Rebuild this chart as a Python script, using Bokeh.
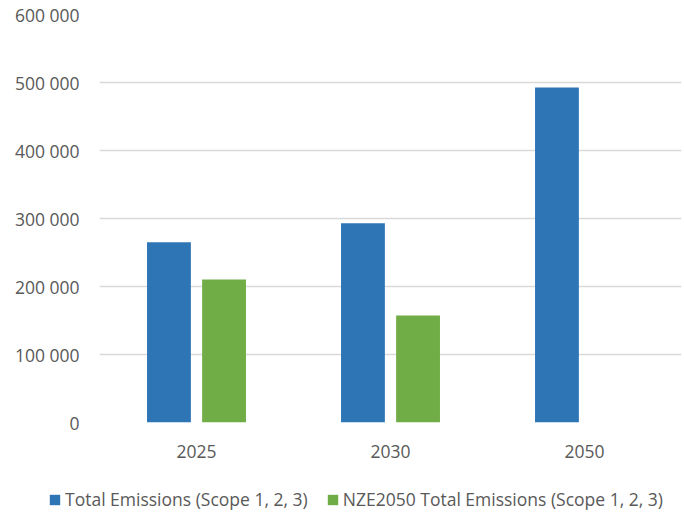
from bokeh.plotting import figure
from bokeh.models import ColumnDataSource, FixedTicker, Legend, LegendItem
from bokeh.transform import dodge
from bokeh.embed import file_html
from bokeh.resources import INLINE

years = ["2025", "2030", "2050"]
total_emissions = [265100, 293100, 492600]
nze2050_emissions = [210300, 157400, 0]
y_ticks = [0, 100000, 200000, 300000, 400000, 500000, 600000]
y_tick_labels = ["0", "100 000", "200 000", "300 000", "400 000", "500 000", "600 000"]
series_names = ["Total Emissions (Scope 1, 2, 3)", "NZE2050 Total Emissions (Scope 1, 2, 3)"]
series_colors = ["#2E75B6", "#70AD47"]

FONT = "Open Sans"
TXT = "#595959"
FS = "17.5px"

src = ColumnDataSource(dict(year=years, total=total_emissions, nze=nze2050_emissions))

p = figure(x_range=years, y_range=(0, 600000), width=684, height=470,
           output_backend="svg", toolbar_location=None,
           min_border_left=99, min_border_right=3, min_border_top=14, min_border_bottom=48)
p.outline_line_color = None

p.vbar(x=dodge("year", -0.142, range=p.x_range), top="total", width=0.226,
       source=src, fill_color=series_colors[0], line_color=None)
p.vbar(x=dodge("year", 0.142, range=p.x_range), top="nze", width=0.226,
       source=src, fill_color=series_colors[1], line_color=None)

p.yaxis.ticker = FixedTicker(ticks=y_ticks)
p.yaxis.major_label_overrides = {t: l for t, l in zip(y_ticks, y_tick_labels)}
for ax in (p.xaxis[0], p.yaxis[0]):
    ax.axis_line_color = None
    ax.major_tick_line_color = None
    ax.minor_tick_line_color = None
    ax.major_label_text_font = FONT
    ax.major_label_text_font_size = FS
    ax.major_label_text_color = TXT
p.yaxis.major_label_standoff = 14
p.xaxis.major_label_standoff = 16

p.xgrid.grid_line_color = None
p.ygrid.grid_line_color = "#d9d9d9"
p.ygrid.grid_line_width = 1.5

# legend strip below the chart (its bars lie below its y range, only the key shows)
lg = figure(x_range=years, y_range=(600000, 700000), width=684, height=45,
            output_backend="svg", toolbar_location=None,
            x_axis_type=None, y_axis_type=None,
            min_border_left=0, min_border_right=0, min_border_top=0, min_border_bottom=0)
lg.outline_line_color = None
lg.xgrid.grid_line_color = None
lg.ygrid.grid_line_color = None
k1 = lg.vbar(x=dodge("year", -0.142, range=lg.x_range), top="total", width=0.226,
             source=src, fill_color=series_colors[0], line_color=None)
k2 = lg.vbar(x=dodge("year", 0.142, range=lg.x_range), top="nze", width=0.226,
             source=src, fill_color=series_colors[1], line_color=None)

legend = Legend(items=[LegendItem(label=series_names[0], renderers=[k1]),
                       LegendItem(label=series_names[1], renderers=[k2])],
                orientation="horizontal", location=(48, 4),
                label_text_font=FONT, label_text_font_size=FS, label_text_color=TXT,
                glyph_width=13, glyph_height=13, label_standoff=4, spacing=18,
                border_line_color=None, background_fill_alpha=0, padding=0, margin=0)
lg.add_layout(legend, "center")

open("out.html", "w").write(file_html([p, lg], INLINE))
